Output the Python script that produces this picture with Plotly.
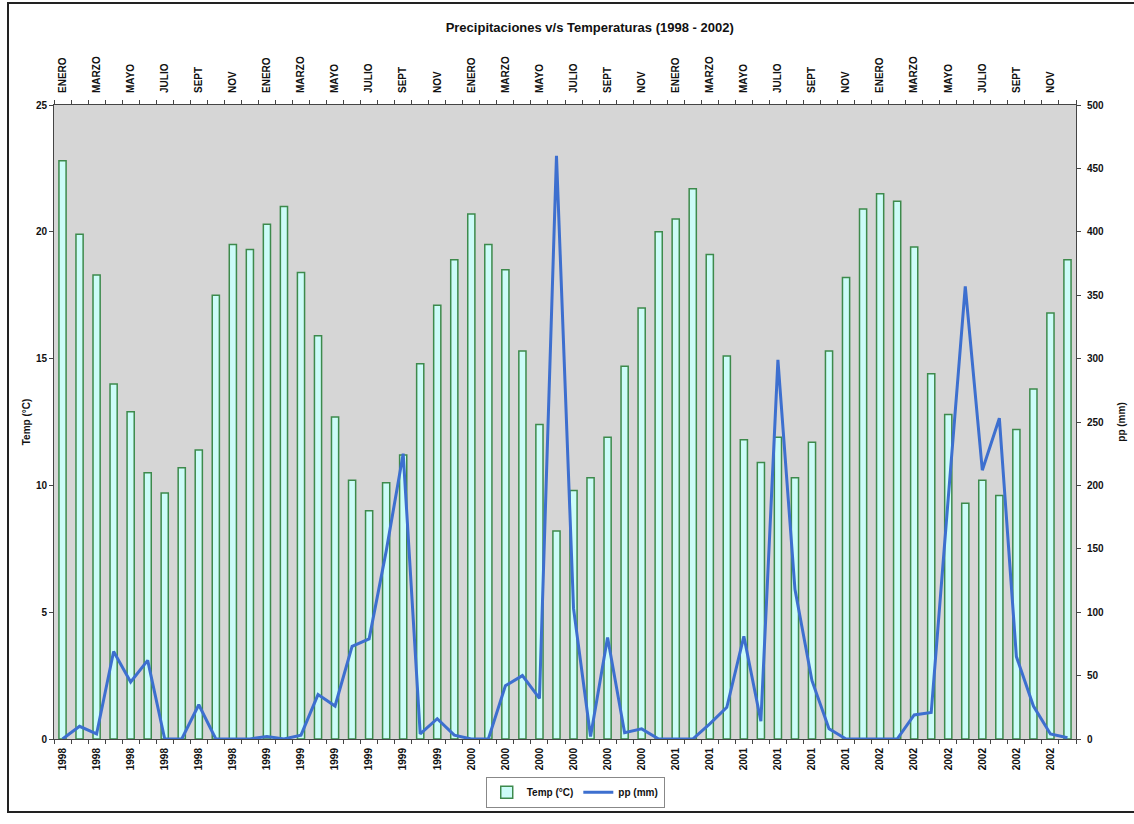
import plotly.graph_objects as go

months = ["ENERO", "FEB", "MARZO", "ABRIL", "MAYO", "JUNIO",
          "JULIO", "AGOSTO", "SEPT", "OCT", "NOV", "DIC"]
years = [1998, 1999, 2000, 2001, 2002]

temp = [22.8, 19.9, 18.3, 14.0, 12.9, 10.5, 9.7, 10.7, 11.4, 17.5, 19.5, 19.3,
        20.3, 21.0, 18.4, 15.9, 12.7, 10.2, 9.0, 10.1, 11.2, 14.8, 17.1, 18.9,
        20.7, 19.5, 18.5, 15.3, 12.4, 8.2, 9.8, 10.3, 11.9, 14.7, 17.0, 20.0,
        20.5, 21.7, 19.1, 15.1, 11.8, 10.9, 11.9, 10.3, 11.7, 15.3, 18.2, 20.9,
        21.5, 21.2, 19.4, 14.4, 12.8, 9.3, 10.2, 9.6, 12.2, 13.8, 16.8, 18.9]

pp = [0, 10, 4, 69, 45, 62, 0, 0, 27, 0, 0, 0,
      2, 0, 3, 35, 26, 73, 79, 148, 225, 4, 16, 3,
      0, 0, 42, 50, 32, 460, 103, 2, 80, 5, 8, 0,
      0, 0, 12, 25, 81, 14, 299, 118, 46, 8, 0, 0,
      0, 0, 19, 21, 190, 357, 212, 253, 65, 26, 4, 1]

labels_month = [m for y in years for m in months]
labels_year = [str(y) for y in years for m in months]
idx = list(range(len(temp)))
tick_idx = idx[::2]

font_bold = dict(family="Liberation Sans, Arial", size=10, color="#111111",
                 weight="bold")

fig = go.Figure()
fig.add_trace(go.Bar(
    x=idx, y=temp, name="Temp (°C)",
    marker=dict(color="#ccfcf8", line=dict(color="#3d8a4c", width=1.5)),
    xaxis="x", yaxis="y"))
fig.add_trace(go.Scatter(
    x=idx, y=pp, name="pp (mm)", mode="lines",
    line=dict(color="#3d6fcf", width=3),
    xaxis="x", yaxis="y2"))
fig.add_trace(go.Scatter(
    x=[idx[0], idx[-1]], y=[None, None], mode="lines", showlegend=False,
    hoverinfo="skip", xaxis="x2", yaxis="y"))

rng = [-0.5, len(temp) - 0.5]
bounds = [i - 0.5 for i in range(len(temp) + 1)]

fig.update_layout(
    width=1134, height=824,
    margin=dict(l=54, r=58, t=105, b=85),
    paper_bgcolor="white",
    plot_bgcolor="#d6d6d6",
    bargap=0.58,
    title=dict(text="Precipitaciones v/s Temperaturas (1998 - 2002)",
               x=0.52, xanchor="center", y=0.967, yanchor="middle",
               font=dict(family="Liberation Sans, Arial", size=13,
                         color="#111111", weight="bold")),
    xaxis=dict(range=rng, tickmode="array", tickvals=tick_idx,
               ticktext=[labels_year[i] for i in tick_idx],
               tickangle=-90, tickfont=font_bold, ticks="", showgrid=False,
               ticklabelstandoff=4, automargin=False,
               showline=True, linecolor="#444444", linewidth=1, zeroline=False,
               minor=dict(tickvals=bounds, ticks="outside", ticklen=4,
                          tickcolor="#444444", showgrid=False)),
    xaxis2=dict(range=rng, overlaying="x", side="top", tickmode="array",
                tickvals=tick_idx, ticktext=[labels_month[i] for i in tick_idx],
                tickangle=-90, tickfont=font_bold, ticks="", showgrid=False,
                ticklabelstandoff=9, automargin=False,
                showline=True, linecolor="#444444", linewidth=1, zeroline=False,
                minor=dict(tickvals=bounds, ticks="outside", ticklen=4,
                           tickcolor="#444444", showgrid=False)),
    yaxis=dict(range=[0, 25], dtick=5, tickfont=font_bold, ticks="outside",
               ticklen=4, tickcolor="#444444", showgrid=False, zeroline=False,
               showline=True, linecolor="#444444", linewidth=1,
               automargin=False,
               title=dict(text="Temp (°C)", font=font_bold, standoff=3)),
    yaxis2=dict(range=[0, 500], dtick=50, overlaying="y", side="right",
                tickfont=font_bold, ticks="outside", ticklen=4,
                tickcolor="#444444", showgrid=False, zeroline=False,
                showline=True, linecolor="#444444", linewidth=1,
                ticklabelstandoff=4, automargin=False,
                title=dict(text="pp (mm)", font=font_bold, standoff=14)),
    legend=dict(orientation="h", x=0.51, xanchor="center", y=-0.084,
                yanchor="middle", bordercolor="#888888", borderwidth=1,
                font=font_bold, bgcolor="white"),
    shapes=[dict(type="rect", xref="paper", yref="paper",
                 x0=-46/1022, x1=1.2, y0=-73/634, y1=(739-3)/634,
                 line=dict(color="#222222", width=2), fillcolor="rgba(0,0,0,0)",
                 layer="below")],
)

fig.write_html("out.html")
